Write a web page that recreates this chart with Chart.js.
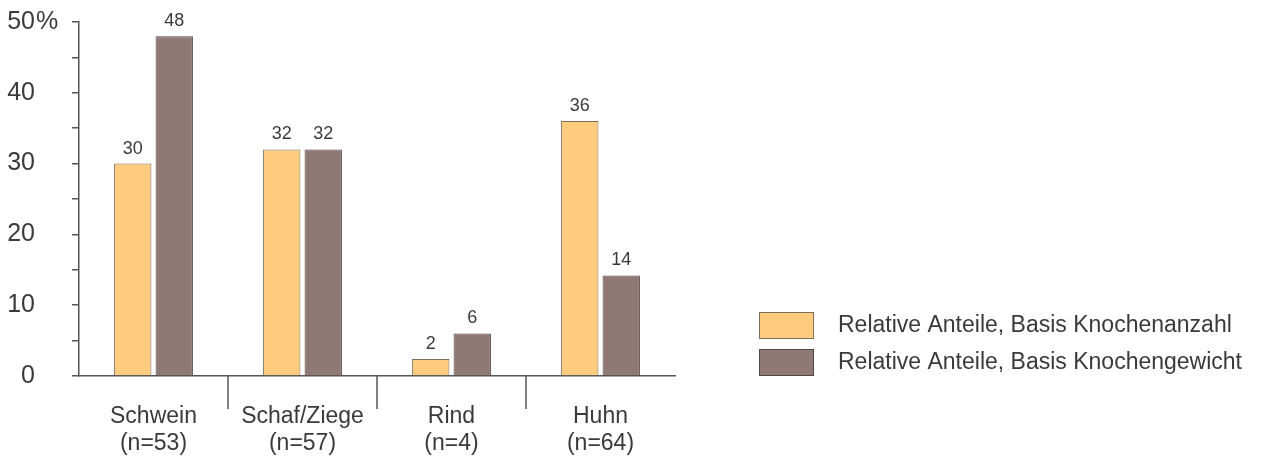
<!DOCTYPE html>
<html lang="de">
<head>
    <meta charset="UTF-8">
    <title>Tierarten Anteile</title>
    <script src="https://cdn.jsdelivr.net/npm/chart.js"></script>
    <style>
        html, body { margin: 0; padding: 0; background: #fff; }
        #wrap { width: 1262px; height: 459px; }
    </style>
</head>
<body>
    <div id="wrap"><canvas id="chart"></canvas></div>

    <script>
        const categories = [['Schwein', '(n=53)'], ['Schaf/Ziege', '(n=57)'], ['Rind', '(n=4)'], ['Huhn', '(n=64)']];
        const seriesNames = ['Relative Anteile, Basis Knochenanzahl', 'Relative Anteile, Basis Knochengewicht'];
        const anzahl = [30, 32, 2.4, 36];
        const gewicht = [48, 32, 6, 14.2];
        const yTicks = [0, 10, 20, 30, 40, 50];

        const textColor = '#3a3a3a';
        const axisColor = '#555';
        const FONT = "'Liberation Sans', Arial, sans-serif";

        // values above the bars
        const valueLabels = {
            id: 'valueLabels',
            afterDatasetsDraw(chart) {
                const ctx = chart.ctx;
                ctx.save();
                ctx.font = '18px ' + FONT;
                ctx.fillStyle = textColor;
                ctx.textAlign = 'center';
                ctx.textBaseline = 'bottom';
                chart.data.datasets.forEach((ds, i) => {
                    chart.getDatasetMeta(i).data.forEach((bar, j) => {
                        ctx.fillText(String(Math.round(ds.data[j])), bar.x, bar.y - 6);
                    });
                });
                ctx.restore();
            }
        };

        // vertical separators between categories, % sign, legend
        const extras = {
            id: 'extras',
            afterDraw(chart) {
                const ctx = chart.ctx;
                const x = chart.scales.x;
                const y = chart.scales.y;
                const area = chart.chartArea;
                ctx.save();
                ctx.strokeStyle = axisColor;
                ctx.lineWidth = 1.5;
                for (let i = 1; i < categories.length; i++) {
                    const px = (x.getPixelForValue(i - 1) + x.getPixelForValue(i)) / 2;
                    ctx.beginPath();
                    ctx.moveTo(px, area.bottom);
                    ctx.lineTo(px, area.bottom + 33);
                    ctx.stroke();
                }

                ctx.font = '25px ' + FONT;
                ctx.fillStyle = textColor;
                ctx.textAlign = 'left';
                ctx.textBaseline = 'middle';
                ctx.fillText('%', y.right - 7 - 37 + 1, y.getPixelForValue(50));

                ctx.font = '23px ' + FONT;
                chart.data.datasets.forEach((ds, i) => {
                    const top = 312 + i * 37;
                    ctx.fillStyle = ds.backgroundColor;
                    ctx.fillRect(759, top, 55, 27);
                    ctx.strokeStyle = ds.borderColor;
                    ctx.lineWidth = 1;
                    ctx.strokeRect(759.5, top + 0.5, 54, 26);
                    ctx.fillStyle = textColor;
                    ctx.fillText(ds.label, 838, top + 14);
                });
                ctx.restore();
            }
        };

        new Chart(document.getElementById('chart'), {
            type: 'bar',
            data: {
                labels: categories,
                datasets: [{
                    label: seriesNames[0],
                    data: anzahl,
                    backgroundColor: '#fecb7f',
                    borderColor: '#7d6e58',
                    borderWidth: 1
                }, {
                    label: seriesNames[1],
                    data: gewicht,
                    backgroundColor: '#8f7975',
                    borderColor: '#544542',
                    borderWidth: 1
                }]
            },
            options: {
                responsive: true,
                maintainAspectRatio: false,
                animation: false,
                layout: { padding: { top: 0, right: 587, left: 0, bottom: 0 } },
                datasets: { bar: { barPercentage: 0.9, categoryPercentage: 0.557 } },
                plugins: { legend: { display: false }, tooltip: { enabled: false } },
                scales: {
                    x: {
                        grid: { display: false, drawTicks: false },
                        border: { display: true, color: axisColor, width: 1.5 },
                        ticks: {
                            color: textColor,
                            padding: 27,
                            font: { family: FONT, size: 23, lineHeight: 1.18 }
                        },
                        afterFit(s) { s.height = 459 - 376; }
                    },
                    y: {
                        min: 0,
                        max: 50,
                        afterBuildTicks(s) {
                            const t = [];
                            for (let v = 0; v <= 50; v += 5) t.push({ value: v });
                            s.ticks = t;
                        },
                        grid: { drawOnChartArea: false, drawTicks: true, tickLength: 7, color: axisColor, lineWidth: 1.5 },
                        border: { display: true, color: axisColor, width: 1.5 },
                        ticks: {
                            color: textColor,
                            padding: 37,
                            font: { family: FONT, size: 25 },
                            callback: v => yTicks.includes(v) ? String(v) : ''
                        },
                        afterFit(s) {
                            s.width = 79;
                            s.paddingTop = 22;
                            s.paddingBottom = 0;
                        }
                    }
                }
            },
            plugins: [valueLabels, extras]
        });
    </script>
</body>
</html>
